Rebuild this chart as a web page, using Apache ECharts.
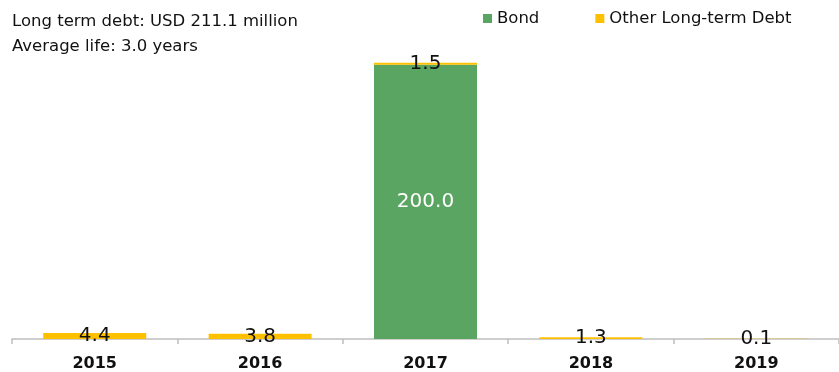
<!DOCTYPE html>
<html><head><meta charset="utf-8">
<script src="https://cdn.jsdelivr.net/npm/echarts@6/dist/echarts.min.js"></script>
<style>html,body{margin:0;padding:0;background:#fff}#c{width:839px;height:372px}</style>
</head><body><div id="c"></div>
<script>
var years = ['2015', '2016', '2017', '2018', '2019'];
var bond = [0, 0, 200.0, 0, 0];
var otherDebt = [4.4, 3.8, 1.5, 1.3, 0.1];
var titleLines = ['Long term debt: USD 211.1 million', 'Average life: 3.0 years'];

var FONT = 'DejaVu Sans';
var chart = echarts.init(document.getElementById('c'));
chart.setOption({
  animation: false,
  textStyle: { fontFamily: FONT },
  graphic: [
    { type: 'text', left: 12, top: 13, style: { text: titleLines[0], font: '16.5px ' + FONT, fill: '#111' } },
    { type: 'text', left: 12, top: 38, style: { text: titleLines[1], font: '16.5px ' + FONT, fill: '#111' } }
  ],
  legend: {
    top: 5, left: 478, itemWidth: 9, itemHeight: 9, itemGap: 56,
    icon: 'rect',
    textStyle: { fontSize: 16.5, color: '#111', fontFamily: FONT },
    data: ['Bond', 'Other Long-term Debt']
  },
  grid: { left: 12, top: 40, width: 835, height: 300 },
  xAxis: {
    type: 'category', data: years,
    axisLine: { show: true, lineStyle: { color: '#bfbfbf', width: 1.5 } },
    axisTick: { show: true, lineStyle: { color: '#bfbfbf', width: 1.5 }, length: 5 },
    axisLabel: { fontWeight: 'bold', fontSize: 16, color: '#111', margin: 17, fontFamily: FONT }
  },
  yAxis: { type: 'value', min: 0, max: 218, show: false, splitLine: { show: false } },
  series: [
    {
      name: 'Bond', type: 'bar', stack: 'd', barWidth: 103, data: bond,
      itemStyle: { color: '#5ba563' },
      label: { show: true, position: 'inside', color: '#fff', fontSize: 20, fontFamily: FONT,
        formatter: function (p) { return p.value ? p.value.toFixed(1) : ''; } }
    },
    {
      name: 'Other Long-term Debt', type: 'bar', stack: 'd', barWidth: 103, data: otherDebt,
      itemStyle: { color: '#ffc000' },
      label: { show: true, position: 'inside', color: '#111', fontSize: 20, fontFamily: FONT,
        formatter: function (p) { return p.value.toFixed(1); } }
    }
  ]
});
</script></body></html>
